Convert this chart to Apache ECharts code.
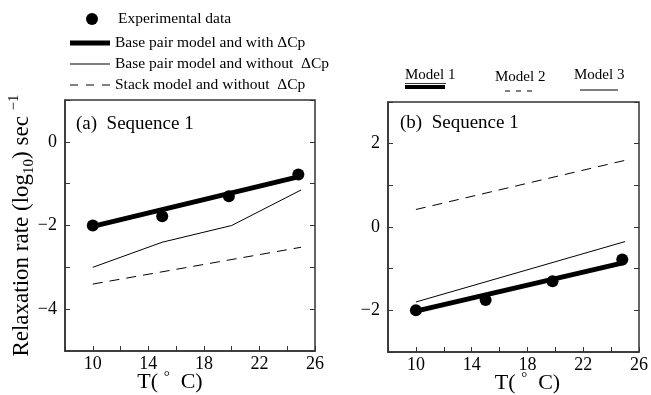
<!DOCTYPE html>
<html>
<head>
<meta charset="utf-8">
<script src="https://cdn.jsdelivr.net/npm/echarts@6/dist/echarts.min.js"></script>
<style>
  html, body { margin: 0; padding: 0; background: #fff; }
  #main { width: 651px; height: 395px; }
</style>
</head>
<body>
<div id="main"></div>
<script>
// data (T in °C, log10 relaxation rate)
var expA = [[10, -2.0], [15, -1.78], [19.8, -1.3], [24.8, -0.78]];
var bpWithA = [[10, -2.02], [25, -0.82]];
var bpWithoutA = [[10, -3.0], [15, -2.4], [20, -2.0], [25, -1.15]];
var stackA = [[10, -3.4], [25, -2.52]];

var expB = [[10, -2.0], [15, -1.75], [19.8, -1.3], [24.8, -0.78]];
var model1B = [[10, -2.02], [25, -0.85]];
var model2B = [[10, 0.42], [25, 1.6]];
var model3B = [[10, -1.8], [25, -0.35]];

var xTickLabels = [10, 14, 18, 22, 26];

var FONT = 'Liberation Serif';
var INK = '#000';
var AXIS = '#333';

function minus(v) { return v < 0 ? '\u2212' + (-v) : String(v); }

function xAxis(grid, namePad) {
  return {
    type: 'value', gridIndex: grid, min: 8, max: 26, interval: 2,
    axisLine: { onZero: false, lineStyle: { color: AXIS, width: 1.5 } },
    axisTick: { inside: true, length: 5, lineStyle: { color: AXIS } },
    splitLine: { show: false },
    axisLabel: {
      margin: 4, color: INK, fontFamily: FONT, fontSize: 18,
      formatter: function (v) { return xTickLabels.indexOf(v) >= 0 ? String(v) : ''; }
    },
    name: '{t|T( }{d|\u00b0}{t|  C)}', nameLocation: 'middle', nameGap: 19,
    nameMoveOverlap: false,
    nameTextStyle: {
      padding: namePad,
      rich: {
        t: { fontFamily: FONT, fontSize: 22, color: INK, lineHeight: 24 },
        d: { fontFamily: FONT, fontSize: 15, color: INK, lineHeight: 14, verticalAlign: 'top' }
      }
    }
  };
}

function yAxis(grid, min, max, withName) {
  var ax = {
    type: 'value', gridIndex: grid, min: min, max: max, interval: 1,
    axisLine: { onZero: false, lineStyle: { color: AXIS, width: 1.5 } },
    axisTick: { inside: true, length: 5, lineStyle: { color: AXIS } },
    splitLine: { show: false },
    axisLabel: {
      margin: 8, color: INK, fontFamily: FONT, fontSize: 18,
      formatter: function (v) { return v % 2 === 0 ? minus(v) : ''; }
    }
  };
  if (withName) {
    ax.name = '{a|Relaxation rate (log}{s|10}{a|) sec }{p|\u22121}';
    ax.nameLocation = 'middle';
    ax.nameGap = 28;
    ax.nameMoveOverlap = false;
    ax.nameTextStyle = {
      rich: {
        a: { fontFamily: FONT, fontSize: 23, color: INK, lineHeight: 30 },
        s: { fontFamily: FONT, fontSize: 15, color: INK, lineHeight: 14, verticalAlign: 'bottom' },
        p: { fontFamily: FONT, fontSize: 15, color: INK, lineHeight: 14, verticalAlign: 'top' }
      }
    };
  }
  return ax;
}

function mirrorY(grid, min, max) {
  return {
    type: 'value', gridIndex: grid, min: min, max: max, interval: 1, position: 'right',
    axisLine: { show: false, onZero: false },
    axisTick: { show: true, inside: true, length: 5, lineStyle: { color: AXIS } },
    axisLabel: { show: false },
    splitLine: { show: false }
  };
}

function lineSeries(name, data, xi, yi, width, dash) {
  return {
    type: 'line', name: name, data: data, xAxisIndex: xi, yAxisIndex: yi,
    symbol: 'none', silent: true, z: 2,
    lineStyle: { color: INK, width: width, type: dash ? [10, 7] : 'solid' },
    itemStyle: { color: INK }
  };
}

var nWith = 'Base pair model and with \u0394Cp';
var nWithout = 'Base pair model and without  \u0394Cp';
var nStack = 'Stack model and without  \u0394Cp';

var option = {
  backgroundColor: '#fff',
  animation: false,
  grid: [
    { left: 65, top: 100, width: 250, height: 251, show: true, borderColor: AXIS, borderWidth: 1.5,
      outerBoundsMode: 'none', containLabel: false },
    { left: 388, top: 102, width: 251, height: 250, show: true, borderColor: AXIS, borderWidth: 1.5,
      outerBoundsMode: 'none', containLabel: false }
  ],
  title: [
    { text: '(a)  Sequence 1', left: 76, top: 115, padding: 0,
      textStyle: { fontFamily: FONT, fontSize: 19, fontWeight: 'normal', color: INK } },
    { text: '(b)  Sequence 1', left: 400, top: 114, padding: 0,
      textStyle: { fontFamily: FONT, fontSize: 19, fontWeight: 'normal', color: INK } }
  ],
  legend: [
    { data: [{ name: 'Experimental data', icon: 'circle' }], left: 86, top: 11, padding: 0,
      itemWidth: 12, itemHeight: 12, selectedMode: false,
      textStyle: { fontFamily: FONT, fontSize: 15.5, color: INK, padding: [0, 0, 0, 15] } },
    { data: [
        { name: nWith, icon: 'path://M0,0L40,0L40,5L0,5Z' },
        { name: nWithout, icon: 'path://M0,0L40,0L40,1L0,1Z' },
        { name: nStack, icon: 'path://M0,0L8,0L8,1L0,1ZM16,0L24,0L24,1L16,1ZM32,0L40,0L40,1L32,1Z' }
      ],
      orient: 'vertical', left: 70, top: 35, padding: 0,
      itemWidth: 40, itemHeight: 14, itemGap: 5, selectedMode: false,
      itemStyle: { color: INK },
      textStyle: { fontFamily: FONT, fontSize: 15.5, color: INK } }
  ],
  xAxis: [xAxis(0, [0, 40, 0, 0]), xAxis(1, [0, 0, 0, 28])],
  yAxis: [yAxis(0, -5, 1, true), mirrorY(0, -5, 1), yAxis(1, -3, 3, false), mirrorY(1, -3, 3)],
  graphic: [
    { type: 'text', left: 405, top: 68, style: { text: 'Model 1', font: '15px "Liberation Serif"', fill: INK } },
    { type: 'line', shape: { x1: 405, y1: 83.5, x2: 446, y2: 83.5 }, style: { stroke: INK, lineWidth: 0.8 } },
    { type: 'line', shape: { x1: 405, y1: 87, x2: 445, y2: 87 }, style: { stroke: INK, lineWidth: 4 } },
    { type: 'text', left: 495, top: 70, style: { text: 'Model 2', font: '15px "Liberation Serif"', fill: INK } },
    { type: 'line', shape: { x1: 505, y1: 91, x2: 533, y2: 91 }, style: { stroke: INK, lineWidth: 1, lineDash: [5, 6] } },
    { type: 'text', left: 574, top: 68, style: { text: 'Model 3', font: '15px "Liberation Serif"', fill: INK } },
    { type: 'line', shape: { x1: 580, y1: 90, x2: 618, y2: 90 }, style: { stroke: INK, lineWidth: 1 } }
  ],
  series: [
    lineSeries(nWith, bpWithA, 0, 0, 5, false),
    lineSeries(nWithout, bpWithoutA, 0, 0, 1, false),
    lineSeries(nStack, stackA, 0, 0, 1, true),
    { type: 'scatter', name: 'Experimental data', data: expA, xAxisIndex: 0, yAxisIndex: 0,
      symbol: 'circle', symbolSize: 12, itemStyle: { color: INK, opacity: 1 }, z: 3 },
    lineSeries('Model 1', model1B, 1, 2, 5, false),
    lineSeries('Model 2', model2B, 1, 2, 1, true),
    lineSeries('Model 3', model3B, 1, 2, 1, false),
    { type: 'scatter', name: 'Experimental data', data: expB, xAxisIndex: 1, yAxisIndex: 2,
      symbol: 'circle', symbolSize: 12, itemStyle: { color: INK, opacity: 1 }, z: 3 }
  ]
};

var chart = echarts.init(document.getElementById('main'));
chart.setOption(option);
</script>
</body>
</html>
